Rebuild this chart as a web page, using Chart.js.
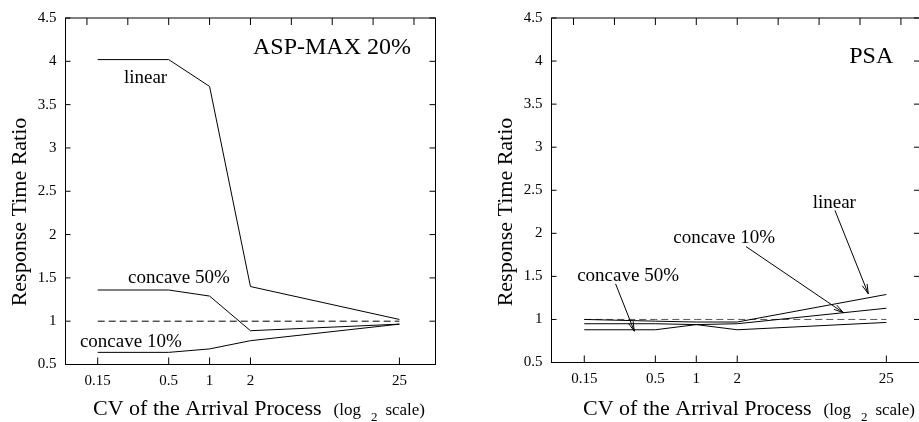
<!DOCTYPE html>
<html>
<head>
<meta charset="utf-8">
<script src="https://cdn.jsdelivr.net/npm/chart.js@4"></script>
<style>
  html, body { margin: 0; padding: 0; background: #fff; overflow: hidden; }
  #wrap { position: relative; width: 919px; height: 422px; overflow: hidden; }
  canvas { position: absolute; top: 0; }
  #asp { left: 0; }
  #psa { left: 460px; }
</style>
</head>
<body>
<div id="wrap">
  <canvas id="asp" width="460" height="422"></canvas>
  <canvas id="psa" width="462" height="422"></canvas>
</div>
<script>
const FONT = "'Liberation Serif', 'Times New Roman', serif";
Chart.defaults.font.family = FONT;
Chart.defaults.color = "#000";

// data
const cv = [0.15, 0.5, 1, 2, 25];
const cvLabels = ["0.15", "0.5", "1", "2", "25"];
const topTicks = [0.125, 0.25, 0.5, 1, 2, 4, 8, 16, 32];
const ratioTicks = [0.5, 1, 1.5, 2, 2.5, 3, 3.5, 4, 4.5];
const reference = [1, 1, 1, 1, 1];

const aspLinear = [4.02, 4.02, 3.71, 1.40, 1.02];
const aspConcave50 = [1.36, 1.36, 1.29, 0.89, 0.966];
const aspConcave10 = [0.64, 0.64, 0.68, 0.775, 0.966];

const psaLinear = [1.00, 0.98, 0.97, 0.97, 1.29];
const psaConcave10 = [0.95, 0.95, 0.94, 0.95, 1.13];
const psaConcave50 = [0.88, 0.88, 0.94, 0.88, 0.965];

// labels, anchored in data space (cv, ratio)
const aspNotes = [
  { text: "linear", at: [0.234, 3.747] },
  { text: "concave 50%", at: [0.251, 1.437] },
  { text: "concave 10%", at: [0.111, 0.701] },
];
const psaNotes = [
  { text: "concave 50%", at: [0.133, 1.451], arrow: [[0.255, 1.413], [0.35, 0.863]] },
  { text: "concave 10%", at: [0.677, 1.893], arrow: [[2.32, 1.846], [12.06, 1.079]] },
  { text: "linear", at: [7.18, 2.296], arrow: [[10.47, 2.266], [18.4, 1.298]] },
];

function drawArrow(ctx, x1, y1, x2, y2) {
  const ang = Math.atan2(y2 - y1, x2 - x1);
  const len = 10, spread = 0.26;
  ctx.beginPath();
  ctx.moveTo(x1, y1);
  ctx.lineTo(x2, y2);
  ctx.moveTo(x2 - len * Math.cos(ang - spread), y2 - len * Math.sin(ang - spread));
  ctx.lineTo(x2, y2);
  ctx.lineTo(x2 - len * Math.cos(ang + spread), y2 - len * Math.sin(ang + spread));
  ctx.stroke();
}

const framePlugin = {
  id: "frame",
  afterDatasetsDraw(chart, args, opts) {
    const { ctx, chartArea: a } = chart;
    const x = chart.scales.x, y = chart.scales.y;
    ctx.save();
    ctx.strokeStyle = "#000";
    ctx.lineWidth = 1;
    ctx.strokeRect(a.left, a.top, a.right - a.left, a.bottom - a.top);

    // inward ticks on all four sides
    ctx.beginPath();
    ratioTicks.forEach(v => {
      const py = y.getPixelForValue(v);
      ctx.moveTo(a.left, py); ctx.lineTo(a.left + 5, py);
      ctx.moveTo(a.right, py); ctx.lineTo(a.right - 6, py);
    });
    topTicks.forEach(v => {
      const px = x.getPixelForValue(v);
      ctx.moveTo(px, a.top); ctx.lineTo(px, a.top + 7);
    });
    cv.forEach(v => {
      const px = x.getPixelForValue(v);
      ctx.moveTo(px, a.bottom); ctx.lineTo(px, a.bottom - 7);
    });
    ctx.stroke();

    ctx.fillStyle = "#000";
    ctx.textBaseline = "alphabetic";

    // panel title
    ctx.font = "24px " + FONT;
    ctx.textAlign = "right";
    ctx.fillText(opts.title, a.right - opts.titleInset, opts.titleBase);

    // curve labels + arrows
    ctx.font = "19px " + FONT;
    ctx.textAlign = "left";
    opts.notes.forEach(n => {
      ctx.fillText(n.text, x.getPixelForValue(n.at[0]), y.getPixelForValue(n.at[1]));
      if (n.arrow) {
        const [p, q] = n.arrow;
        drawArrow(ctx, x.getPixelForValue(p[0]), y.getPixelForValue(p[1]),
                       x.getPixelForValue(q[0]), y.getPixelForValue(q[1]));
      }
    });

    // y title
    ctx.save();
    ctx.translate(a.left - 45, 212);
    ctx.rotate(-Math.PI / 2);
    ctx.textAlign = "center";
    ctx.textBaseline = "middle";
    ctx.font = "22px " + FONT;
    ctx.fillText("Response Time Ratio", 0, 0);
    ctx.restore();

    // x title with log_2 subscript
    let tx = a.left + opts.xTitleInset;
    const base = 415;
    ctx.textAlign = "left";
    ctx.font = "22px " + FONT;
    ctx.fillText("CV of the Arrival Process", tx, base);
    tx += ctx.measureText("CV of the Arrival Process").width + 12;
    ctx.font = "17px " + FONT;
    ctx.fillText("(log", tx, base);
    tx += ctx.measureText("(log").width + 10;
    ctx.font = "13px " + FONT;
    ctx.fillText("2", tx, base + 6);
    tx += ctx.measureText("2").width + 8;
    ctx.font = "17px " + FONT;
    ctx.fillText("scale)", tx, base);
    ctx.restore();
  }
};

function makeChart(id, series, dashColor, layout, frame) {
  const datasets = series.map(s => ({
    data: cv.map((c, i) => ({ x: c, y: s[i] })),
    borderColor: "#000",
    borderWidth: 1,
    pointRadius: 0,
    tension: 0,
    fill: false,
  }));
  datasets.push({
    data: cv.map((c, i) => ({ x: c, y: reference[i] })),
    borderColor: dashColor,
    borderWidth: 1,
    borderDash: [7, 4],
    pointRadius: 0,
    fill: false,
  });

  return new Chart(document.getElementById(id), {
    type: "line",
    data: { datasets },
    plugins: [framePlugin],
    options: {
      responsive: false,
      animation: false,
      events: [],
      layout: { padding: layout.padding },
      plugins: {
        legend: { display: false },
        tooltip: { enabled: false },
        frame,
      },
      scales: {
        x: {
          type: "logarithmic",
          min: layout.xMin,
          max: layout.xMax,
          grid: { display: false, drawTicks: false },
          border: { display: false },
          afterBuildTicks: s => { s.ticks = cv.map(v => ({ value: v })); },
          afterFit: s => { s.height = layout.xHeight; },
          ticks: {
            autoSkip: false,
            maxRotation: 0,
            padding: 8,
            font: { size: 15 },
            callback: (v, i) => cvLabels[i],
          },
        },
        y: {
          min: 0.5,
          max: 4.5,
          grid: { display: false, drawTicks: false },
          border: { display: false },
          afterFit: s => { s.width = layout.yWidth; },
          ticks: {
            stepSize: 0.5,
            padding: 9,
            font: { size: 15 },
            callback: v => String(v),
          },
        },
      },
    },
  });
}

makeChart("asp", [aspLinear, aspConcave50, aspConcave10], "#000",
  { padding: { left: 0.5, top: 16.5, right: 24.5, bottom: 0 }, yWidth: 65, xHeight: 57.5,
    xMin: 0.0869, xMax: 46.1 },
  { title: "ASP-MAX 20%", titleInset: 24.5, titleBase: 54.3, xTitleInset: 27.5, notes: aspNotes });

makeChart("psa", [psaLinear, psaConcave10, psaConcave50], "#555",
  { padding: { left: 0.5, top: 15.5, right: 2, bottom: 0 }, yWidth: 91, xHeight: 59.5,
    xMin: 0.0861, xMax: 44.2 },
  { title: "PSA", titleInset: 26.7, titleBase: 63.3, xTitleInset: 31.5, notes: psaNotes });
</script>
</body>
</html>
